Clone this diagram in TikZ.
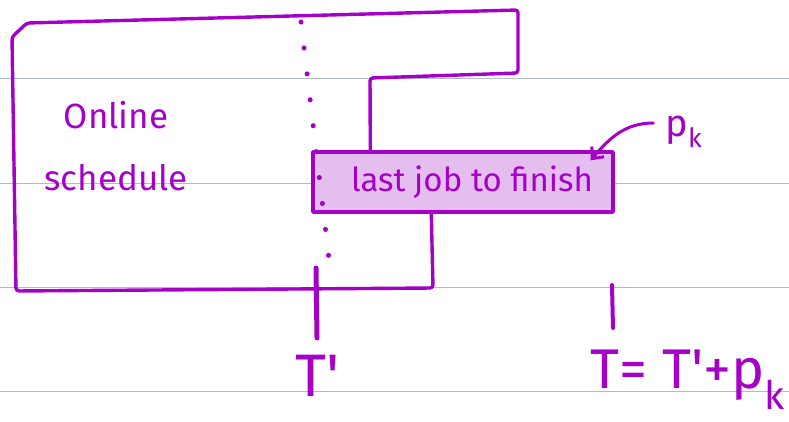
\documentclass[tikz,border=0pt]{standalone}
\usepackage{fontspec}
\setmainfont{Fira Sans}
\usetikzlibrary{arrows.meta}
\definecolor{ink}{RGB}{165,0,200}
\definecolor{jobfill}{RGB}{229,190,240}
\definecolor{ruleline}{RGB}{176,188,206}
\tikzset{
  pen/.style={draw=ink,line width=3.4pt,line join=round,line cap=round},
  jobbox/.style={pen,fill=jobfill,minimum width=300pt,minimum height=60pt,inner sep=0pt},
  hand/.style={text=ink,inner sep=0pt},
}

\begin{document}
\begin{tikzpicture}[x=1pt,y=-1pt]
\useasboundingbox (0,0) rectangle (789,422);
% ruled paper
\foreach \y in {79,184,287,391}
  \draw[ruleline,line width=1pt] (0,\y) -- (789,\y);
% the last job
\node[jobbox,font=\fontsize{33}{36}\selectfont,text=ink] (job) at (463,182) {\hspace{18pt}last job to finish};
\coordinate (upjoin) at ([xshift=59pt]job.north west);
\coordinate (lowjoin) at ([xshift=120pt]job.south west);
% outline of the online schedule
\draw[pen,rounded corners=3pt] (upjoin) -- (370,78) -- (518,73) -- (518,10)
  -- (27,23) -- (12,37) -- (16,291) -- (433,288) -- (lowjoin);
\node[hand,font=\fontsize{35}{62}\selectfont,align=center] (online) at (116,146) {Online\\schedule};
% time T'
\draw[ink,line width=5pt,line cap=round,dash pattern=on 0.1pt off 26pt] (301,22) -- (330,268);
\coordinate (tp) at (316,268);
\draw[ink,line width=5pt,line cap=round] (tp) -- ++(1,70);
\node[hand,font=\fontsize{60}{66}\selectfont] (tplab) at (318,376) {T\textquotesingle};
% time T
\coordinate (tt) at (612,285);
\draw[ink,line width=4pt,line cap=round] (tt) -- ++(1,43);
\node[hand,font=\fontsize{56}{60}\selectfont] (tlab) at (688,380) {T= T\textquotesingle+p\textsubscript{k}};
% p_k
\node[hand,font=\fontsize{38}{40}\selectfont] (pk) at (684,132) {p\textsubscript{k}};
\draw[pen,line width=3pt,-{Straight Barb[length=9pt,width=16pt]}] ([xshift=-12pt,yshift=9pt]pk.west)
  to[out=180,in=50] ([xshift=-24pt,yshift=-10pt]job.north east);
\end{tikzpicture}
\end{document}
